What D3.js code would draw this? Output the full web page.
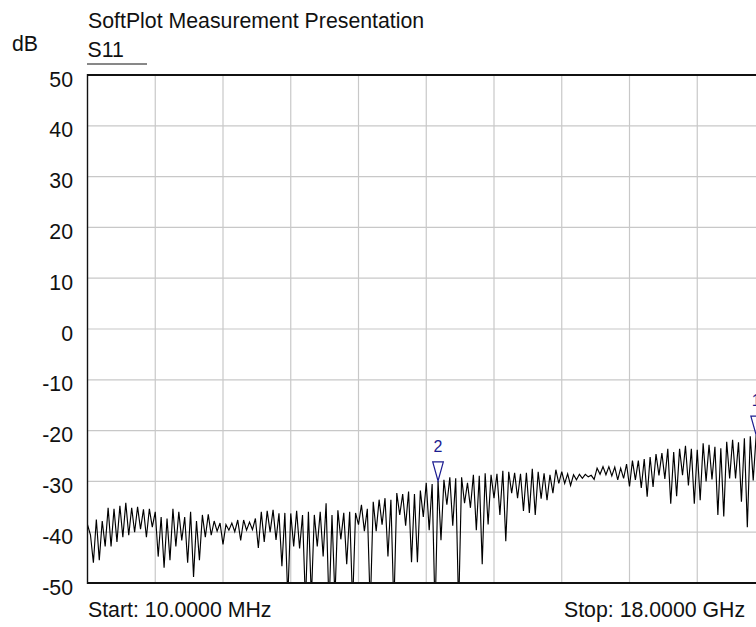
<!DOCTYPE html>
<html><head><meta charset="utf-8">
<script src="https://cdn.jsdelivr.net/npm/d3@7/dist/d3.min.js"></script>
<style>body{margin:0;background:#fff}svg{display:block}</style>
</head><body><svg id="c" width="756" height="627"></svg>
<script>
// ---- data ----
const titleText = "SoftPlot Measurement Presentation";
const traceName = "S11";
const yUnit = "dB";
const startHz = 10e6;
const stopHz = 18e9;
const startLabel = "Start: 10.0000 MHz";
const stopLabel = "Stop: 18.0000 GHz";
const yTicks = [50, 40, 30, 20, 10, 0, -10, -20, -30, -40, -50];
const xDivisions = 10;
const s11dB = [
 -38.5,-40.5,-46,-37.5,-45.5,-37.8,-42.8,-35.2,-42.8,-35.4,
 -41.9,-34.8,-41,-34.2,-40.6,-35.2,-40,-35,-39.4,-35.5,
 -41,-35.4,-39,-36,-44.8,-37,-47,-37.3,-45.5,-35.4,
 -42.8,-36,-41.6,-37,-46,-36,-48.8,-37.8,-45.5,-36.6,
 -41,-36.5,-40.6,-37.8,-39.8,-38.2,-42.4,-38.5,-39.6,-38.2,
 -39.9,-37.6,-41.6,-37.6,-39.6,-38,-39.5,-37.3,-43.1,-36,
 -41.9,-35.8,-40,-35.6,-41.5,-36.3,-46.7,-36.2,-53,-36.3,
 -42.8,-35.8,-43.2,-36.6,-54,-36,-53,-36.6,-42.8,-36,
 -44.8,-34.3,-55,-36.6,-53,-35.7,-41.4,-36.2,-46.3,-36,
 -54,-36.2,-38.5,-34.6,-39.8,-35.4,-55,-34,-39.8,-33.6,
 -38.5,-33.3,-44.8,-33.6,-55,-32.3,-36.6,-32.5,-38.7,-32,
 -45.9,-32.5,-45.9,-31.8,-37,-30.3,-39.6,-30.5,-56,-29.9,
 -41.6,-29.7,-34.6,-29.2,-38.7,-29.4,-55,-29.2,-34.3,-30.3,
 -35.2,-28.7,-39.6,-28.9,-46.3,-28.4,-38.5,-28.7,-33.3,-28.5,
 -36.6,-27.9,-41.8,-28.1,-32.3,-28.3,-33.3,-28.5,-35.8,-28.3,
 -36.2,-27.5,-36.6,-28.1,-33.4,-28.4,-33.7,-28.7,-32.3,-27.7,
 -30.4,-28.1,-30.4,-28.5,-30.8,-28.7,-29.7,-28.6,-29.4,-28.6,
 -29.1,-28.8,-29.6,-27.4,-28.6,-27.1,-28.7,-27.1,-28.9,-27.2,
 -29.7,-27.4,-29.4,-26.6,-31,-25.9,-29.7,-25.9,-31.3,-25.6,
 -33,-25.2,-31.1,-24.6,-28.8,-24.4,-29.5,-23.6,-34.4,-24.2,
 -32.9,-23.6,-28.8,-23.0,-30.8,-23.6,-34.4,-23.8,-33.7,-22.5,
 -30,-22.8,-29.6,-23.2,-36.6,-23.5,-36.9,-22.2,-29.4,-21.8,
 -29.4,-22.3,-34,-21.5,-39,-21.1,-29.8,-20.9,-30,-22,
 -28
];
const markerLabels = ["2", "1"];
const markerIndex = [119, 227];

// sweep frequencies (linear sweep from start to stop)
const freqs = s11dB.map((_, i) => startHz + i * (stopHz - startHz) / (s11dB.length - 1));

// ---- layout ----
const L = 87.5, R = 765, T = 75, B = 583;
const FONT = "'Liberation Sans', Arial, Helvetica, sans-serif";
const FS = 21.3;
const svg = d3.select("#c");
svg.append("rect").attr("width", 756).attr("height", 627).attr("fill", "#fff");

const x = d3.scaleLinear().domain([startHz, stopHz]).range([L, R]);
const y = d3.scaleLinear().domain([-50, 50]).range([B, T]);

// grid
const xGrid = d3.range(1, xDivisions).map(k => startHz + k * (stopHz - startHz) / xDivisions);
svg.append("g").selectAll("line").data(xGrid).join("line")
  .attr("x1", d => x(d)).attr("x2", d => x(d)).attr("y1", T).attr("y2", B)
  .attr("stroke", "#c8c8c8").attr("stroke-width", 1.2);
svg.append("g").selectAll("line").data(yTicks.filter(v => v > -50 && v < 50)).join("line")
  .attr("x1", L).attr("x2", R).attr("y1", d => y(d)).attr("y2", d => y(d))
  .attr("stroke", "#c8c8c8").attr("stroke-width", 1.2);

// y axis labels
const yAxis = d3.axisLeft(y).tickValues(yTicks).tickSize(0).tickPadding(0).tickFormat(d => String(d));
const gy = svg.append("g").attr("transform", "translate(73,0)").call(yAxis);
gy.select(".domain").remove();
gy.selectAll("text").attr("dy", "0.52em").attr("font-size", FS).attr("font-family", FONT).attr("fill", "#111");

// clip
svg.append("clipPath").attr("id", "clip").append("rect")
  .attr("x", L).attr("y", T).attr("width", R - L).attr("height", B - T);

// trace
const line = d3.line().x((d, i) => x(freqs[i])).y(d => y(d));
svg.append("path").datum(s11dB).attr("clip-path", "url(#clip)")
  .attr("d", line).attr("fill", "none").attr("stroke", "#000")
  .attr("stroke-width", 1.15).attr("stroke-linejoin", "miter");

// frame
svg.append("line").attr("x1", L).attr("x2", R).attr("y1", T).attr("y2", T).attr("stroke", "#111").attr("stroke-width", 2);
svg.append("line").attr("x1", L).attr("x2", R).attr("y1", B).attr("y2", B).attr("stroke", "#111").attr("stroke-width", 2);
svg.append("line").attr("x1", L).attr("x2", L).attr("y1", T - 1).attr("y2", B + 1).attr("stroke", "#111").attr("stroke-width", 1.4);

// markers
const mk = svg.append("g");
markerIndex.forEach((idx, k) => {
  const mx = x(freqs[idx]), my = y(s11dB[idx]);
  mk.append("path")
    .attr("d", `M${mx - 5.3},${my - 19}L${mx + 5.3},${my - 19}L${mx},${my}Z`)
    .attr("fill", "none").attr("stroke", "#1c1c90").attr("stroke-width", 1.2);
  mk.append("text").attr("x", mx).attr("y", my - 29).attr("text-anchor", "middle")
    .attr("font-family", FONT).attr("font-size", 16).attr("fill", "#1c1c90").text(markerLabels[k]);
});

// texts
svg.append("text").attr("x", 88).attr("y", 28).attr("font-family", FONT).attr("font-size", FS).attr("fill", "#111").text(titleText);
svg.append("text").attr("x", 12).attr("y", 51).attr("font-family", FONT).attr("font-size", FS).attr("fill", "#111").text(yUnit);
svg.append("text").attr("x", 87.5).attr("y", 56.5).attr("font-family", FONT).attr("font-size", FS).attr("fill", "#111").text(traceName);
svg.append("line").attr("x1", 87).attr("x2", 147).attr("y1", 64).attr("y2", 64).attr("stroke", "#111").attr("stroke-width", 1);
svg.append("text").attr("x", 88).attr("y", 617).attr("font-family", FONT).attr("font-size", FS).attr("fill", "#111").text(startLabel);
svg.append("text").attr("x", 564).attr("y", 617).attr("font-family", FONT).attr("font-size", FS).attr("fill", "#111").text(stopLabel);
</script></body></html>
